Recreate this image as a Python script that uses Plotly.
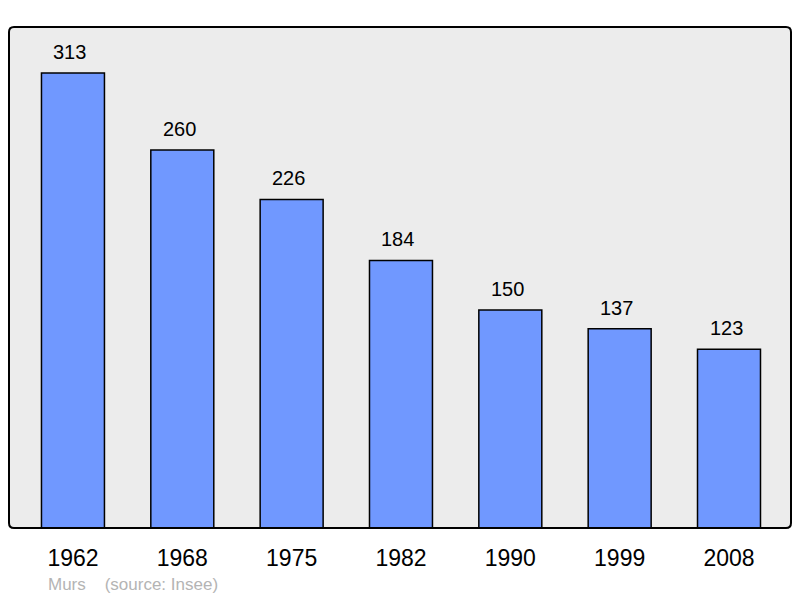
import plotly.graph_objects as go

years = ["1962", "1968", "1975", "1982", "1990", "1999", "2008"]
population = [313, 260, 226, 184, 150, 137, 123]
positions = list(range(len(years)))

FONT = "Liberation Sans, Arial, sans-serif"

fig = go.Figure()
fig.add_trace(go.Bar(
    x=positions, y=population, width=0.576,
    marker=dict(color="#7098ff", line=dict(color="#000000", width=1.5)),
    hoverinfo="skip",
))

for xi, v in zip(positions, population):
    fig.add_annotation(x=xi, y=v, text=str(v), showarrow=False,
                       yanchor="bottom", yshift=8, xshift=-3,
                       font=dict(family=FONT, size=20, color="#000"))

fig.add_annotation(xref="paper", yref="paper", x=(46 - 9) / 782, y=-(584 - 528) / 501,
                   xanchor="left", yanchor="middle", showarrow=False,
                   text="Murs&nbsp;&nbsp;&nbsp;&nbsp;(source: Insee)",
                   font=dict(family=FONT, size=17, color="#b4b4b4"))

# rounded frame around the plot area
rx, ry = 5 / 782, 5 / 501
path = (f"M {rx},0 L {1-rx},0 Q 1,0 1,{ry} L 1,{1-ry} Q 1,1 {1-rx},1 "
        f"L {rx},1 Q 0,1 0,{1-ry} L 0,{ry} Q 0,0 {rx},0 Z")
fig.add_shape(type="path", xref="paper", yref="paper", path=path,
              line=dict(color="#000", width=2), fillcolor="rgba(0,0,0,0)", layer="above")

fig.update_layout(
    width=792, height=590,
    margin=dict(l=1, r=9, t=19, b=70),
    paper_bgcolor="#ffffff", plot_bgcolor="#ececec",
    showlegend=False,
    xaxis=dict(range=[-0.585, 6.567], tickmode="array", tickvals=positions, ticktext=years,
               showgrid=False, zeroline=False, ticks="outside", ticklen=9,
               tickcolor="rgba(0,0,0,0)",
               tickfont=dict(family=FONT, size=23, color="#000")),
    yaxis=dict(range=[0, 344.6], showgrid=False, zeroline=False, showticklabels=False),
)

fig.write_html("out.html")
